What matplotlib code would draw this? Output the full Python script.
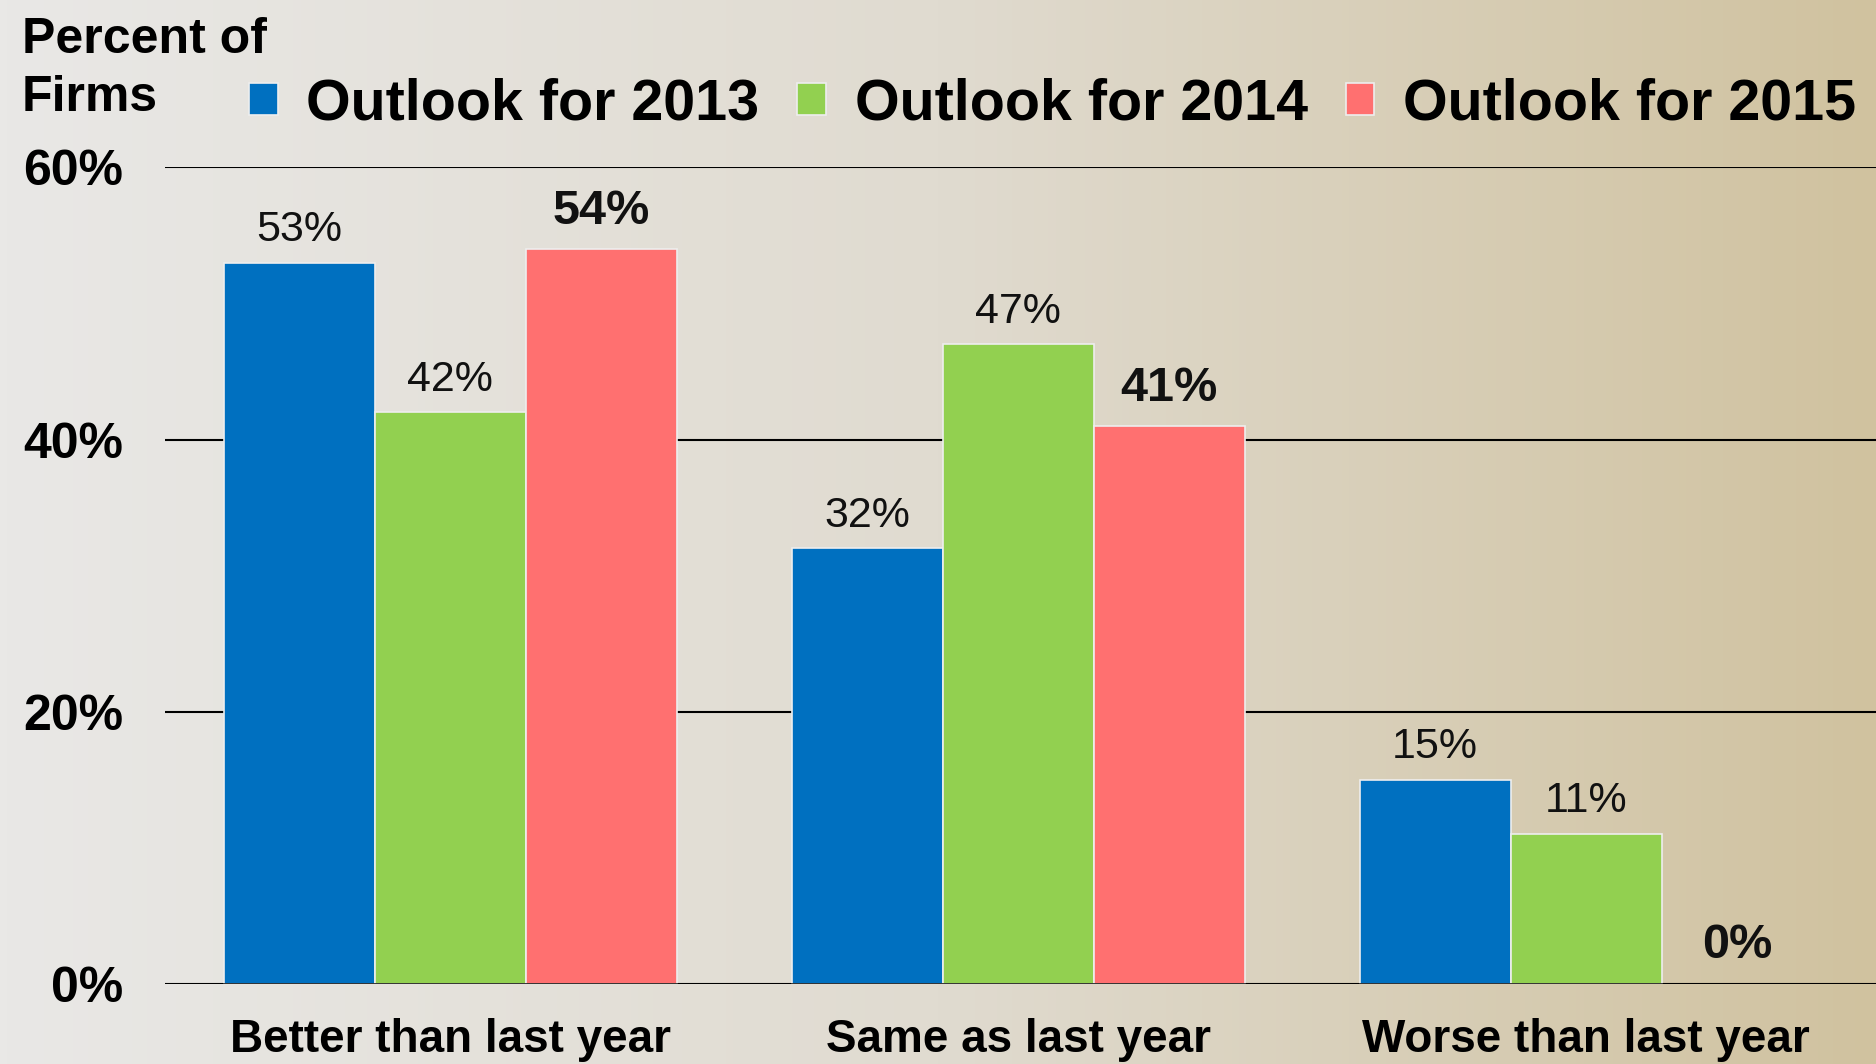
import numpy as np
import matplotlib
matplotlib.use("Agg")
import matplotlib.pyplot as plt
from matplotlib.colors import LinearSegmentedColormap

categories = ["Better than last year", "Same as last year", "Worse than last year"]
series_names = ["Outlook for 2013", "Outlook for 2014", "Outlook for 2015"]
outlook_2013 = [53, 32, 15]
outlook_2014 = [42, 47, 11]
outlook_2015 = [54, 41, 0]
yticks = [0, 20, 40, 60]
ytick_labels = ["0%", "20%", "40%", "60%"]

colors = ["#0070C0", "#92D050", "#FF7070"]
FONT = "Liberation Sans"

fig = plt.figure(figsize=(18.76, 10.64), dpi=100)

# background gradient
bg = fig.add_axes([0, 0, 1, 1], zorder=0)
cmap = LinearSegmentedColormap.from_list("bg", ["#E9E8E6", "#E0DBD0", "#D0C29F"])
grad = np.linspace(0, 1, 512).reshape(1, -1)
bg.imshow(grad, aspect="auto", cmap=cmap, extent=[0, 1, 0, 1])
bg.axis("off")

ax = fig.add_axes([0.088, 0.0756, 0.912, 0.767], zorder=1)
ax.patch.set_alpha(0)

x = np.arange(len(categories))
w = 0.266
all_series = [outlook_2013, outlook_2014, outlook_2015]
handles = []
for i, (vals, col, name) in enumerate(zip(all_series, colors, series_names)):
    lws = [1.2 if v > 0 else 0 for v in vals]
    bars = ax.bar(x + (i - 1) * w, vals, width=w, color=col, edgecolor="#EEEEEE",
                  linewidth=lws, zorder=3, label=name)
    handles.append(bars)
    bold = (i == 2)
    for xi, v in zip(x + (i - 1) * w, vals):
        ax.annotate(f"{v}%", (xi, v), xytext=(0, 11 if bold else 9),
                    textcoords="offset points",
                    ha="center", va="bottom", fontsize=35 if bold else 31,
                    fontweight="bold" if bold else "normal", family=FONT,
                    color="#111111", zorder=4)

ax.axhline(0, color="black", linewidth=1.8, zorder=5)
ax.set_xlim(-0.502, 2.51)
ax.set_ylim(0, 60)
ax.set_yticks(yticks)
ax.set_yticklabels(ytick_labels, fontsize=36, fontweight="bold", family=FONT)
ax.set_xticks(x)
ax.set_xticklabels(categories, fontsize=33, fontweight="bold", family=FONT)
ax.tick_params(axis="y", length=0, pad=30)
ax.tick_params(axis="x", length=0, pad=25)
for s in ax.spines.values():
    s.set_visible(False)
ax.yaxis.grid(True, color="black", linewidth=1.5, zorder=1)
ax.set_axisbelow(True)

fig.text(0.0115, 0.950, "Percent of", fontsize=36, fontweight="bold", family=FONT,
         ha="left", va="baseline")
fig.text(0.0115, 0.896, "Firms", fontsize=36, fontweight="bold", family=FONT,
         ha="left", va="baseline")

leg = fig.legend(handles=handles, labels=series_names, ncol=3, loc="center left",
                 bbox_to_anchor=(0.1328, 0.902), frameon=False, borderpad=0,
                 borderaxespad=0, handlelength=0.5, handleheight=0.5,
                 handletextpad=0.50, columnspacing=0.66,
                 prop={"family": FONT, "weight": "bold", "size": 41.3})

fig.savefig("out.png", dpi=100)
